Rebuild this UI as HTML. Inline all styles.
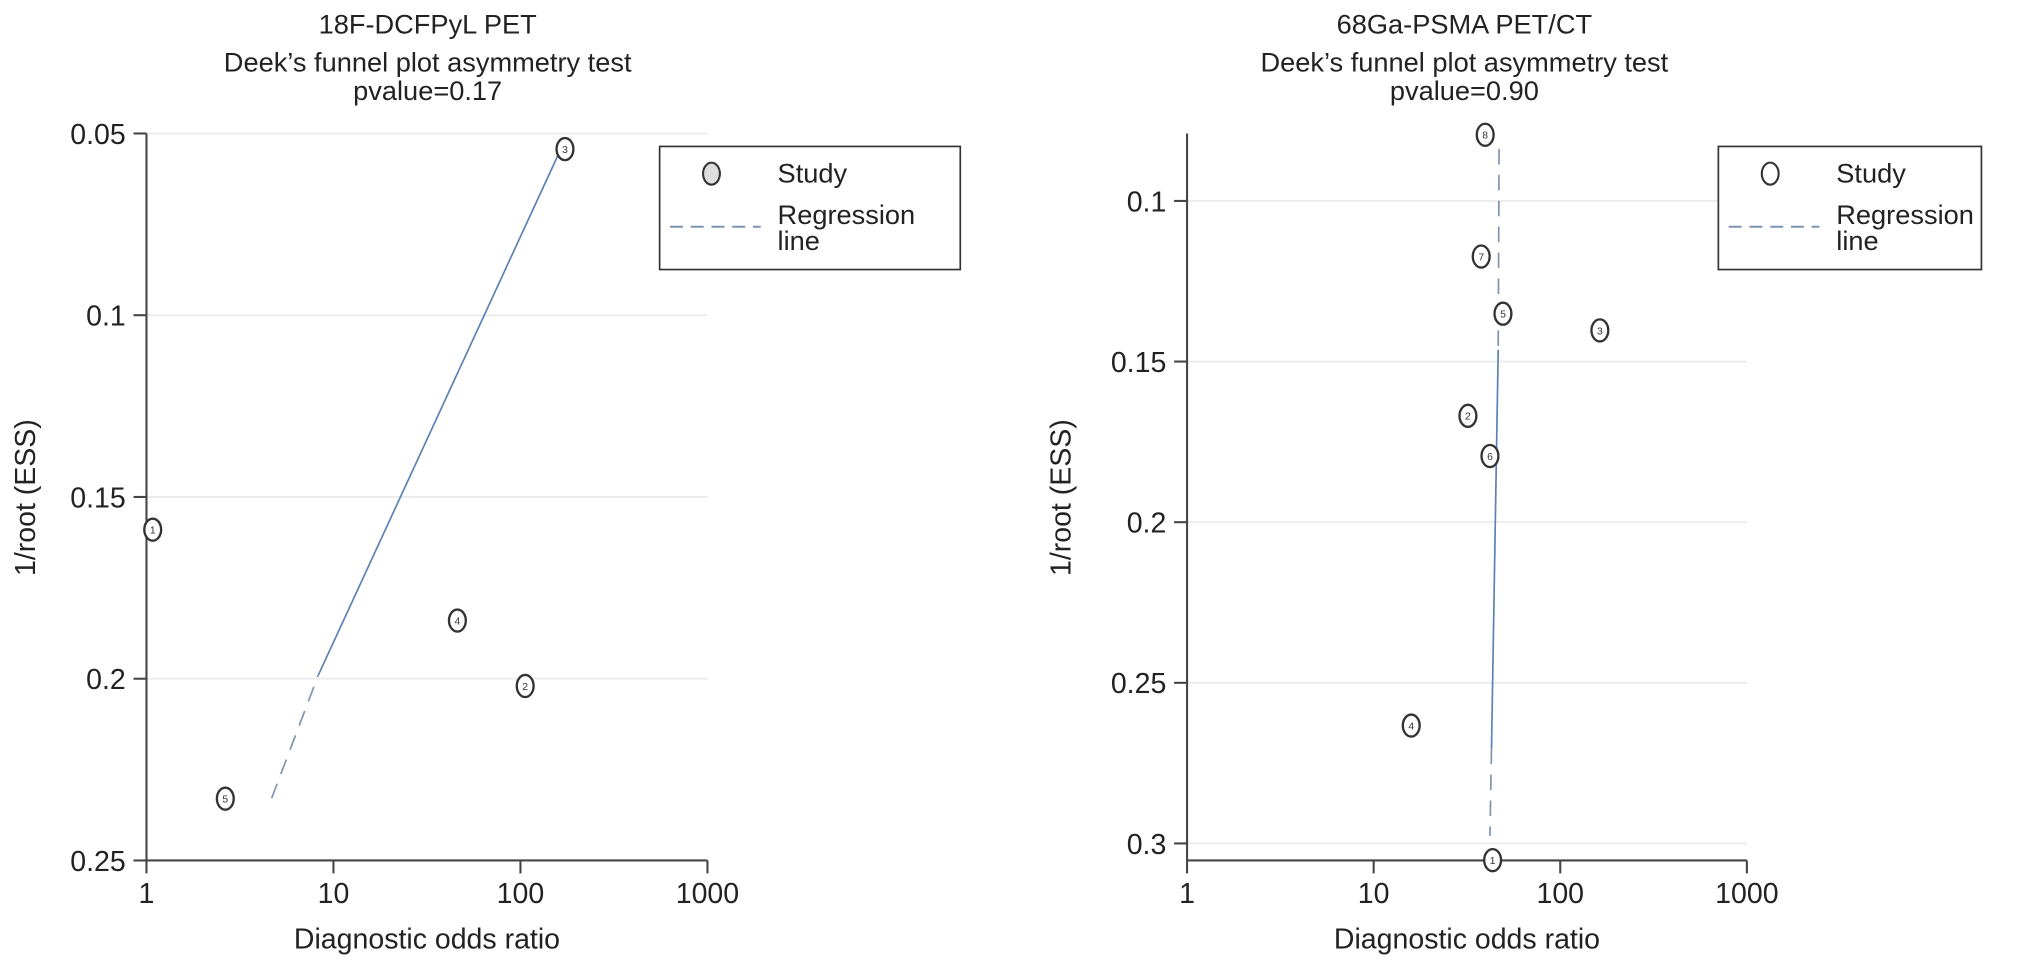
<!DOCTYPE html>
<html><head><meta charset="utf-8"><style>
html,body{margin:0;padding:0;background:#fff;}
svg{display:block;font-family:"Liberation Sans",Arial,sans-serif;}
</style></head><body>
<svg id="chart" width="2032" height="971" viewBox="0 0 1568 749.3" xmlns="http://www.w3.org/2000/svg"></svg>
<script>
// Left panel data (18F-DCFPyL PET)
const leftStudyIds = ["1","2","3","4","5"];
const leftDOR = [1.08, 106, 173, 46, 2.64];
const leftESS = [0.159, 0.202, 0.0543, 0.184, 0.233];
const leftRegX = [4.67, 8.3, 162];
const leftRegY = [0.2329, 0.199, 0.055];
const leftYTicks = [0.05, 0.1, 0.15, 0.2, 0.25];
// Right panel data (68Ga-PSMA PET/CT)
const rightStudyIds = ["8","7","5","3","2","6","4","1"];
const rightDOR = [39.6, 37.7, 49.3, 163, 32, 42, 15.9, 43.4];
const rightESS = [0.0794, 0.1173, 0.1351, 0.1403, 0.1669, 0.1794, 0.2633, 0.3052];
const rightRegX = [47, 46.5, 42.8, 42];
const rightRegY = [0.0838, 0.1463, 0.2705, 0.2977];
const rightYTicks = [0.1, 0.15, 0.2, 0.25, 0.3];
const xTicks = [1, 10, 100, 1000];

const NS = "http://www.w3.org/2000/svg";
const svg = document.getElementById("chart");
function mk(tag, attrs, parent, text){
  const e = document.createElementNS(NS, tag);
  for (const k in attrs) e.setAttribute(k, attrs[k]);
  if (text !== undefined) e.textContent = text;
  (parent || svg).appendChild(e);
  return e;
}

function panel(cfg){
  const g = mk("g", {});
  
  
  const xs = v => cfg.x0 + Math.log10(v) * cfg.dec;
  const ys = v => cfg.yTop + (v - cfg.yMin) / (cfg.yMax - cfg.yMin) * (cfg.yBot - cfg.yTop);
  const x1000 = xs(1000);
  // gridlines
  cfg.yTicks.forEach(t => {
    const l = mk("line", {x1: cfg.x0, x2: x1000, y1: ys(t), y2: ys(t), stroke: "#ececec", "stroke-width": 1.5}, g);
    
    
  });
  // titles
  const tx = cfg.titleX;
  const t1 = mk("text", {x: tx, y: 26, "text-anchor": "middle", "font-size": 21, fill: "#222"}, g, cfg.title);
  
  
  const t2 = mk("text", {x: tx, y: 55, "text-anchor": "middle", "font-size": 21, fill: "#222"}, g, "Deek\u2019s funnel plot asymmetry test");
  
  
  const t3 = mk("text", {x: tx, y: 77, "text-anchor": "middle", "font-size": 21, fill: "#222"}, g, cfg.pval);
  
  
  // y axis
  const ya = mk("line", {x1: cfg.x0, x2: cfg.x0, y1: cfg.yTop, y2: cfg.yBot, stroke: "#444", "stroke-width": 1.6}, g);
  
  
  cfg.yTicks.forEach(t => {
    const tk = mk("line", {x1: cfg.x0 - 10, x2: cfg.x0, y1: ys(t), y2: ys(t), stroke: "#444", "stroke-width": 1.6}, g);
    
    
    const lb = mk("text", {x: cfg.x0 - 16, y: ys(t) + 8, "text-anchor": "end", "font-size": 22, fill: "#222"}, g, String(t));
    
    
  });
  // x axis
  const xa = mk("line", {x1: cfg.x0, x2: x1000, y1: cfg.yBot, y2: cfg.yBot, stroke: "#444", "stroke-width": 1.6}, g);
  
  
  xTicks.forEach(t => {
    const tk = mk("line", {x1: xs(t), x2: xs(t), y1: cfg.yBot, y2: cfg.yBot + 10, stroke: "#444", "stroke-width": 1.6}, g);
    
    
    const lb = mk("text", {x: xs(t), y: cfg.yBot + 33, "text-anchor": "middle", "font-size": 22, fill: "#222"}, g, String(t));
    
    
  });
  const xt = mk("text", {x: (cfg.x0 + x1000) / 2, y: cfg.yBot + 68, "text-anchor": "middle", "font-size": 22, fill: "#222"}, g, "Diagnostic odds ratio");
  
  
  const ytx = cfg.ytitleX, yty = 384;
  const yt = mk("text", {x: ytx, y: yty, "text-anchor": "middle", "font-size": 22, fill: "#222", transform: `rotate(-90 ${ytx} ${yty})`}, g, "1/root (ESS)");
  
  
  // regression line segments
  for (let i = 0; i < cfg.regX.length - 1; i++) {
    const dashed = cfg.regDash[i];
    const seg = mk("line", {x1: xs(cfg.regX[i]), y1: ys(cfg.regY[i]), x2: xs(cfg.regX[i+1]), y2: ys(cfg.regY[i+1]),
      stroke: dashed ? "#7f93b0" : "#5a82b4", "stroke-width": 1.3, "stroke-dasharray": dashed ? "12 8" : "none"}, g);
    
    
  }
  // study points
  cfg.ids.forEach((id, i) => {
    const cx = xs(cfg.dor[i]), cy = ys(cfg.ess[i]);
    const pg = mk("g", {}, g);
    
    
    mk("ellipse", {cx: cx, cy: cy, rx: 6.5, ry: 8.5, fill: "#fff", stroke: "#333", "stroke-width": 1.8}, pg);
    mk("text", {x: cx, y: cy + 3, "text-anchor": "middle", "font-size": 8, fill: "#333"}, pg, id);
  });
  // legend
  const lg = mk("g", {}, g);
  
  
  mk("rect", {x: cfg.lx, y: 113, width: cfg.lw, height: 95, fill: "#fff", stroke: "#333", "stroke-width": 1.3}, lg);
  const le1 = mk("g", {}, lg);
  
  
  mk("ellipse", {cx: cfg.lx + 40, cy: 134, rx: 6.5, ry: 8.5, fill: cfg.legFill, stroke: "#333", "stroke-width": 1.6}, le1);
  mk("text", {x: cfg.lx + 91, y: 141, "font-size": 21, fill: "#222"}, le1, "Study");
  const le2 = mk("g", {}, lg);
  
  
  mk("line", {x1: cfg.lx + 8, x2: cfg.lx + 78, y1: 175, y2: 175, stroke: "#7f93b0", "stroke-width": 1.5, "stroke-dasharray": "10 6"}, le2);
  mk("text", {x: cfg.lx + 91, y: 173, "font-size": 21, fill: "#222"}, le2, "Regression");
  mk("text", {x: cfg.lx + 91, y: 193, "font-size": 21, fill: "#222"}, le2, "line");
}

panel({name: "panel-18f-dcfpyl", title: "18F-DCFPyL PET", pval: "pvalue=0.17", titleX: 330,
  x0: 113, dec: 144.3, yTop: 103, yBot: 664, yMin: 0.05, yMax: 0.25, yTicks: leftYTicks, ytitleX: 27,
  ids: leftStudyIds, dor: leftDOR, ess: leftESS, regX: leftRegX, regY: leftRegY, regDash: [true, false],
  lx: 509, lw: 232, legFill: "#ddd"});
panel({name: "panel-68ga-psma", title: "68Ga-PSMA PET/CT", pval: "pvalue=0.90", titleX: 1130,
  x0: 916, dec: 144, yTop: 103, yBot: 664, yMin: 0.079, yMax: 0.3053, yTicks: rightYTicks, ytitleX: 826,
  ids: rightStudyIds, dor: rightDOR, ess: rightESS, regX: rightRegX, regY: rightRegY, regDash: [true, false, true],
  lx: 1326, lw: 203, legFill: "#fff"});
</script>
</body></html>
